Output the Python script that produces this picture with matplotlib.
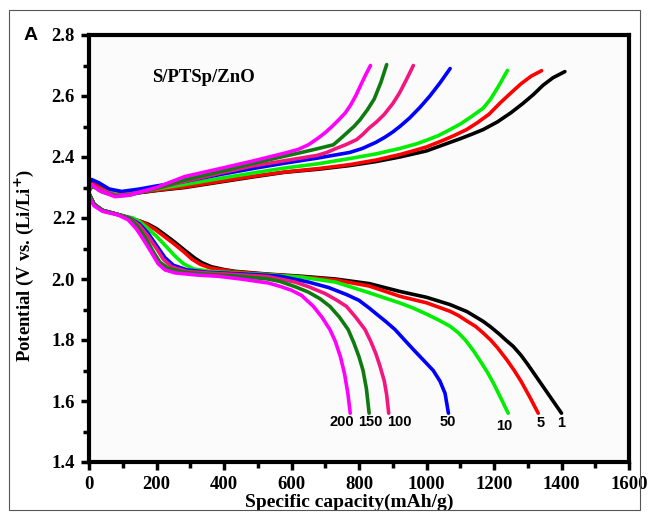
import numpy as np
import matplotlib.pyplot as plt
from matplotlib.patches import Rectangle
from matplotlib.ticker import MultipleLocator

# cycle number -> colour
cycles = ['1', '5', '10', '50', '100', '150', '200']
colors = ['#000000', '#ff0000', '#00ee00', '#0000ff', '#f2167e', '#0f7a0f', '#ff00ff']

# discharge curves (capacity mAh/g, potential V)
dis_cap = {
    '1':   [0, 15, 40, 90, 150, 175, 200, 225, 255, 285, 314, 335, 363, 400, 433, 530, 630, 730, 830, 922, 1000, 1070, 1120, 1168, 1190, 1215, 1235, 1257, 1280, 1300, 1325, 1350, 1375, 1400],
    '5':   [0, 15, 40, 90, 150, 170, 195, 220, 250, 280, 305, 330, 360, 430, 530, 630, 730, 830, 922, 1000, 1070, 1095, 1120, 1145, 1168, 1190, 1210, 1238, 1260, 1280, 1305, 1331],
    '10':  [0, 15, 40, 90, 130, 150, 170, 200, 230, 255, 280, 310, 360, 430, 530, 630, 730, 830, 922, 960, 1000, 1035, 1070, 1095, 1115, 1139, 1160, 1180, 1200, 1220, 1242],
    '50':  [0, 15, 40, 90, 120, 150, 175, 200, 225, 250, 290, 350, 430, 530, 566, 650, 710, 763, 800, 830, 852, 880, 907, 935, 960, 990, 1020, 1040, 1055, 1065],
    '100': [0, 15, 40, 90, 120, 150, 175, 200, 220, 245, 290, 350, 430, 530, 566, 610, 650, 700, 735, 763, 790, 818, 835, 850, 862, 875, 882, 888],
    '150': [0, 15, 40, 90, 120, 145, 170, 190, 210, 235, 280, 350, 430, 530, 566, 610, 650, 685, 714, 742, 768, 785, 800, 812, 822, 830],
    '200': [0, 15, 40, 86, 116, 140, 161, 186, 205, 225, 255, 320, 383, 450, 531, 566, 600, 630, 665, 690, 714, 730, 745, 757, 767, 774],
}
dis_v = {
    '1':   [2.28, 2.245, 2.225, 2.21, 2.19, 2.18, 2.165, 2.145, 2.12, 2.093, 2.068, 2.053, 2.04, 2.031, 2.025, 2.016, 2.009, 2.0, 1.985, 1.959, 1.94, 1.916, 1.893, 1.861, 1.843, 1.82, 1.80, 1.779, 1.75, 1.72, 1.68, 1.64, 1.60, 1.56],
    '5':   [2.28, 2.245, 2.225, 2.21, 2.19, 2.18, 2.163, 2.142, 2.117, 2.09, 2.065, 2.048, 2.036, 2.024, 2.015, 2.007, 1.997, 1.977, 1.943, 1.922, 1.894, 1.88, 1.862, 1.845, 1.823, 1.80, 1.775, 1.735, 1.70, 1.665, 1.615, 1.56],
    '10':  [2.28, 2.245, 2.225, 2.21, 2.2, 2.188, 2.17, 2.14, 2.105, 2.075, 2.05, 2.033, 2.025, 2.02, 2.014, 2.006, 1.99, 1.955, 1.921, 1.905, 1.885, 1.866, 1.845, 1.823, 1.80, 1.765, 1.73, 1.695, 1.655, 1.61, 1.56],
    '50':  [2.28, 2.245, 2.225, 2.21, 2.2, 2.18, 2.15, 2.11, 2.07, 2.045, 2.03, 2.022, 2.018, 2.012, 2.009, 1.99, 1.972, 1.949, 1.93, 1.905, 1.885, 1.86, 1.834, 1.80, 1.77, 1.735, 1.70, 1.665, 1.625, 1.56],
    '100': [2.28, 2.245, 2.225, 2.21, 2.2, 2.175, 2.14, 2.1, 2.065, 2.04, 2.025, 2.02, 2.015, 2.008, 2.0, 1.99, 1.975, 1.952, 1.93, 1.91, 1.875, 1.834, 1.795, 1.755, 1.715, 1.665, 1.62, 1.56],
    '150': [2.28, 2.245, 2.225, 2.21, 2.198, 2.17, 2.13, 2.09, 2.055, 2.035, 2.022, 2.015, 2.01, 2.0, 1.992, 1.975, 1.957, 1.935, 1.91, 1.875, 1.834, 1.79, 1.745, 1.70, 1.64, 1.56],
    '200': [2.27, 2.24, 2.222, 2.21, 2.194, 2.165, 2.13, 2.085, 2.05, 2.03, 2.02, 2.013, 2.009, 2.0, 1.987, 1.976, 1.963, 1.946, 1.91, 1.875, 1.834, 1.795, 1.745, 1.69, 1.625, 1.56],
}

# charge curves
chg_cap = {
    '1':   [0, 10, 30, 70, 100, 150, 200, 284, 400, 500, 581, 680, 773, 850, 921, 1000, 1050, 1100, 1135, 1168, 1210, 1250, 1285, 1317, 1345, 1375, 1410],
    '5':   [0, 10, 30, 70, 100, 150, 200, 284, 400, 500, 581, 680, 773, 850, 921, 960, 1000, 1050, 1085, 1119, 1150, 1185, 1218, 1250, 1280, 1310, 1341],
    '10':  [0, 10, 40, 85, 120, 200, 284, 400, 500, 581, 680, 773, 850, 921, 970, 1000, 1035, 1070, 1100, 1130, 1168, 1190, 1215, 1240],
    '50':  [0, 8, 30, 60, 97, 150, 200, 284, 400, 500, 581, 680, 773, 810, 850, 877, 900, 921, 950, 980, 1010, 1040, 1070],
    '100': [0, 10, 40, 80, 120, 200, 284, 400, 482, 581, 630, 675, 705, 730, 760, 793, 812, 830, 852, 875, 900, 920, 941, 961],
    '150': [0, 10, 40, 80, 120, 200, 284, 400, 482, 581, 630, 680, 724, 745, 765, 785, 803, 825, 845, 865, 882],
    '200': [0, 8, 30, 77, 120, 200, 284, 400, 482, 581, 620, 650, 679, 700, 720, 740, 759, 775, 790, 807, 820, 834],
}
chg_v = {
    '1':   [2.3, 2.31, 2.3, 2.285, 2.28, 2.283, 2.29, 2.3, 2.32, 2.337, 2.35, 2.36, 2.372, 2.385, 2.4, 2.42, 2.44, 2.46, 2.475, 2.49, 2.515, 2.545, 2.575, 2.605, 2.635, 2.66, 2.68],
    '5':   [2.3, 2.315, 2.305, 2.287, 2.28, 2.284, 2.291, 2.302, 2.322, 2.339, 2.351, 2.362, 2.375, 2.39, 2.408, 2.42, 2.433, 2.455, 2.472, 2.49, 2.512, 2.54, 2.577, 2.61, 2.64, 2.665, 2.683],
    '10':  [2.29, 2.305, 2.29, 2.278, 2.28, 2.295, 2.31, 2.332, 2.35, 2.364, 2.378, 2.395, 2.41, 2.428, 2.443, 2.455, 2.47, 2.49, 2.508, 2.53, 2.56, 2.59, 2.635, 2.684],
    '50':  [2.31, 2.326, 2.315, 2.295, 2.287, 2.295, 2.305, 2.32, 2.345, 2.365, 2.38, 2.397, 2.415, 2.428, 2.448, 2.465, 2.482, 2.50, 2.528, 2.562, 2.60, 2.643, 2.69],
    '100': [2.29, 2.305, 2.29, 2.275, 2.278, 2.297, 2.32, 2.35, 2.37, 2.388, 2.397, 2.405, 2.415, 2.427, 2.44, 2.457, 2.475, 2.495, 2.515, 2.54, 2.575, 2.61, 2.655, 2.70],
    '150': [2.29, 2.305, 2.285, 2.272, 2.275, 2.297, 2.325, 2.355, 2.378, 2.403, 2.415, 2.428, 2.44, 2.46, 2.48, 2.50, 2.522, 2.555, 2.59, 2.645, 2.703],
    '200': [2.29, 2.31, 2.29, 2.27, 2.275, 2.3, 2.336, 2.365, 2.386, 2.413, 2.425, 2.44, 2.462, 2.48, 2.50, 2.522, 2.544, 2.57, 2.60, 2.64, 2.67, 2.70],
}

# cycle labels under the discharge ends
lab_x = [1399, 1339, 1230, 1064, 919, 833, 750]
lab_y = [1.527, 1.527, 1.518, 1.531, 1.531, 1.531, 1.531]

fig = plt.figure(figsize=(6.49, 5.19), dpi=100)
fig.patches.append(Rectangle((9 / 649, 9 / 519), 631 / 649, 500 / 519, transform=fig.transFigure,
                             fill=False, edgecolor='#555555', linewidth=0.8))
ax = fig.add_axes([89 / 649, 57 / 519, 540 / 649, 427 / 519])

for c, col in zip(cycles, colors):
    ax.plot(dis_cap[c], dis_v[c], color=col, lw=2.6, solid_capstyle='round',
            solid_joinstyle='round')
    ax.plot(chg_cap[c], chg_v[c], color=col, lw=2.6, solid_capstyle='round',
            solid_joinstyle='round')

for c, x, y in zip(cycles, lab_x, lab_y):
    ax.text(x, y, c, ha='center', va='center', fontsize=10.5, fontweight='bold',
            family='Liberation Sans')

ax.text(187, 2.66, 'S/PTSp/ZnO', ha='left', va='center', fontsize=13.5,
        fontweight='bold', family='Liberation Serif')

ax.set_xlim(0, 1600)
ax.set_ylim(1.4, 2.8)
ax.xaxis.set_major_locator(MultipleLocator(200))
ax.xaxis.set_minor_locator(MultipleLocator(100))
ax.yaxis.set_major_locator(MultipleLocator(0.2))
ax.yaxis.set_minor_locator(MultipleLocator(0.1))
ax.yaxis.set_major_formatter(plt.FuncFormatter(lambda v, p: '%.1f' % v))
ax.tick_params(which='major', direction='out', length=6, width=2.5, pad=4)
ax.tick_params(which='minor', direction='out', length=4, width=2.5)
for lab in ax.get_xticklabels() + ax.get_yticklabels():
    lab.set_family('Liberation Serif')
    lab.set_fontweight('bold')
    lab.set_fontsize(13.5)
for sp in ax.spines.values():
    sp.set_linewidth(3)
ax.set_facecolor('#fbfbfb')

ax.set_xlabel('Specific capacity(mAh/g)', family='Liberation Serif', fontweight='bold',
              fontsize=14, labelpad=1)
ax.xaxis.set_label_coords(0.482, -0.075)
ax.set_ylabel('Potential (V vs. (Li/Li$^{\\mathbf{+}}$)', family='Liberation Serif',
              fontweight='bold', fontsize=13.5)
ax.yaxis.set_label_coords(-0.098, 0.46)

fig.text(24 / 649, 1 - 36 / 519, 'A', ha='left', va='center', fontsize=14,
         fontweight='bold', family='Liberation Sans')

fig.savefig('out.png', dpi=100)
